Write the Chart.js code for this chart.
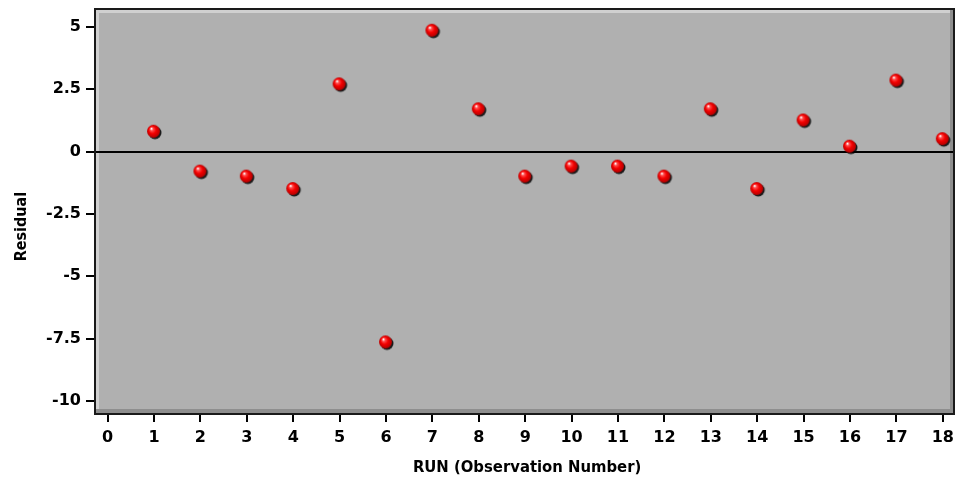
<!DOCTYPE html>
<html>
<head>
<meta charset="utf-8">
<script src="https://cdn.jsdelivr.net/npm/chart.js@4/dist/chart.umd.min.js"></script>
<style>
  body { margin: 0; background: #fff; }
</style>
</head>
<body>
<canvas id="residChart" width="961" height="483"></canvas>
<script>
const runs = [1, 2, 3, 4, 5, 6, 7, 8, 9, 10, 11, 12, 13, 14, 15, 16, 17, 18];
const residuals = [0.8, -0.8, -1.0, -1.5, 2.7, -7.65, 4.85, 1.7, -1.0, -0.6, -0.6, -1.0, 1.7, -1.5, 1.25, 0.2, 2.85, 0.5];
const xTicks = [0, 1, 2, 3, 4, 5, 6, 7, 8, 9, 10, 11, 12, 13, 14, 15, 16, 17, 18];
const yTicks = [-10, -7.5, -5, -2.5, 0, 2.5, 5];

// little shaded red ball used as the marker
function makeBall() {
  const c = document.createElement('canvas');
  c.width = 18; c.height = 18;
  const g = c.getContext('2d');
  g.fillStyle = 'rgba(0,0,0,0.85)';
  g.beginPath(); g.arc(10, 10, 6.5, 0, Math.PI * 2); g.fill();
  const grad = g.createRadialGradient(6.3, 5.8, 0.4, 8.5, 8.5, 7);
  grad.addColorStop(0, '#ffffff');
  grad.addColorStop(0.18, '#ff5050');
  grad.addColorStop(0.5, '#f40000');
  grad.addColorStop(1, '#a80000');
  g.fillStyle = grad;
  g.beginPath(); g.arc(8.5, 8.5, 6.5, 0, Math.PI * 2); g.fill();
  return c;
}

const frame = {
  id: 'frame',
  beforeDraw(chart) {
    const { ctx, chartArea: a } = chart;
    ctx.save();
    ctx.fillStyle = '#b0b0b0';
    ctx.fillRect(a.left, a.top, a.right - a.left, a.bottom - a.top);
    // bevel
    ctx.fillStyle = '#d0d0d0';
    ctx.fillRect(a.left, a.top, 3, a.bottom - a.top);
    ctx.fillRect(a.left, a.top, a.right - a.left, 3);
    ctx.fillStyle = '#8e8e8e';
    ctx.fillRect(a.left, a.bottom - 4, a.right - a.left, 4);
    ctx.fillRect(a.right - 3, a.top, 3, a.bottom - a.top);
    ctx.restore();
  },
  beforeDatasetsDraw(chart) {
    // zero reference line
    const { ctx, chartArea: a, scales } = chart;
    const y0 = Math.round(scales.y.getPixelForValue(0));
    ctx.save();
    ctx.strokeStyle = '#000';
    ctx.lineWidth = 2;
    ctx.beginPath();
    ctx.moveTo(a.left, y0);
    ctx.lineTo(a.right, y0);
    ctx.stroke();
    ctx.restore();
  },
  afterDraw(chart) {
    const { ctx, chartArea: a } = chart;
    ctx.save();
    ctx.strokeStyle = '#1a1a1a';
    ctx.lineWidth = 2;
    ctx.strokeRect(a.left - 1, a.top - 1, a.right - a.left + 2, a.bottom - a.top + 2);
    ctx.restore();
  }
};

const tickFont = { family: '"DejaVu Sans", Verdana, sans-serif', size: 16, weight: 'bold' };
const titleFamily = '"DejaVu Sans Condensed", "DejaVu Sans", sans-serif';

new Chart(document.getElementById('residChart'), {
  type: 'scatter',
  data: {
    datasets: [{
      data: runs.map((r, i) => ({ x: r, y: residuals[i] })),
      pointStyle: makeBall(),
      pointRadius: 7
    }]
  },
  options: {
    responsive: false,
    animation: false,
    events: [],
    layout: { padding: { top: 10, right: 4, left: 0, bottom: 0 } },
    plugins: { legend: { display: false }, tooltip: { enabled: false } },
    scales: {
      x: {
        type: 'linear',
        min: -0.25,
        max: 18.22,
        afterBuildTicks: s => { s.ticks = xTicks.map(v => ({ value: v })); },
        afterFit: s => { s.height = 70; s.paddingLeft = 0; s.paddingRight = 0; },
        border: { display: false },
        grid: { drawOnChartArea: false, tickLength: 9, color: '#000', tickWidth: 2, lineWidth: 2 },
        ticks: { color: '#000', font: tickFont, padding: 6, maxRotation: 0, autoSkip: false },
        title: {
          display: true,
          text: ' RUN (Observation Number)',
          color: '#000',
          font: { family: titleFamily, size: 16.5, weight: 'bold' },
          padding: { top: 2, bottom: 5 }
        }
      },
      y: {
        min: -10.48,
        max: 5.68,
        afterBuildTicks: s => { s.ticks = yTicks.map(v => ({ value: v })); },
        afterFit: s => { s.width = 96; s.paddingTop = 0; s.paddingBottom = 0; },
        border: { display: false },
        grid: { drawOnChartArea: false, tickLength: 10, color: '#000', tickWidth: 2, lineWidth: 2 },
        ticks: { color: '#000', font: tickFont, padding: 5 },
        title: {
          display: true,
          text: 'Residual      ',
          color: '#000',
          font: { family: titleFamily, size: 16, weight: 'bold' },
          padding: { top: 12, bottom: 0 }
        }
      }
    }
  },
  plugins: [frame]
});
</script>
</body>
</html>
